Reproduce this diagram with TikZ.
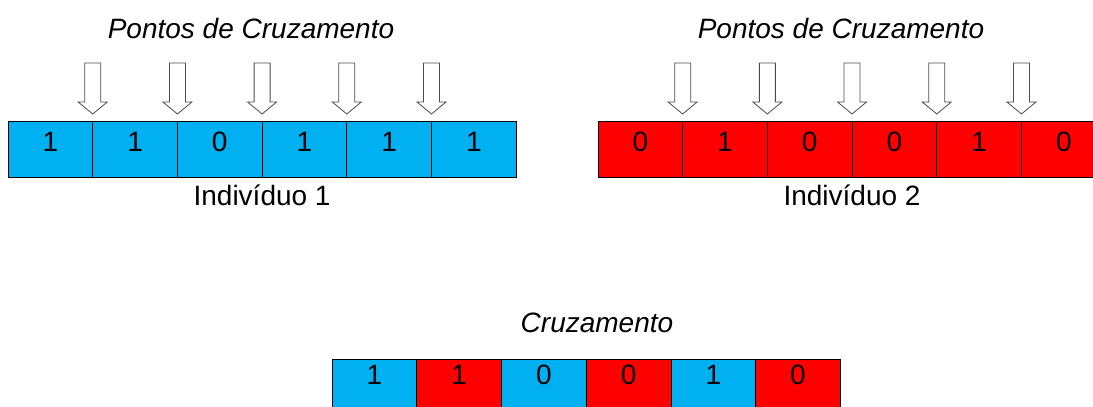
\documentclass[tikz,border=0pt]{standalone}
\usepackage{fontspec}
\setmainfont{Liberation Sans}
\usetikzlibrary{positioning}
\definecolor{geneblue}{RGB}{0,176,240}
\definecolor{genered}{RGB}{255,0,0}
\tikzset{
    cut/.pic = {
    \draw[fill=white, draw=black!70, line width=0.8pt]
      (0,0) -- (-14.5,-12) -- (-8,-12) -- (-8,-51) -- (8,-51) -- (8,-12) -- (14.5,-12) -- cycle;
    },
    cell/.style={draw, line width=0.8pt, minimum width=84.7pt, minimum height=56pt,
      inner sep=0pt, outer sep=0pt, text depth=14pt, font=\fontsize{28}{34}\selectfont},
    one/.style={cell, fill=geneblue},
    two/.style={cell, fill=genered},
    title/.style={inner sep=0pt, font=\itshape\fontsize{28}{34}\selectfont},
    caption/.style={inner sep=0pt, anchor=base, font=\fontsize{28}{34}\selectfont},
}

\begin{document}
\begin{tikzpicture}[x=1pt, y=-1pt]
    \clip (0,0) rectangle (1093,407);

    % Individuo 1
    \node[title] (t1) at (251,28) {Pontos de Cruzamento};
    \node[one] (a1) at (50.35,149) {1};
    \node[one, right=0pt of a1] (a2) {1};
    \node[one, right=0pt of a2] (a3) {0};
    \node[one, right=0pt of a3] (a4) {1};
    \node[one, right=0pt of a4] (a5) {1};
    \node[one, right=0pt of a5] (a6) {1};
    \node[caption] (n1) at ([yshift=-28pt]a3.south east) {Indivíduo 1};

    \pic at ([yshift=7pt]a1.north east) {cut};
    \pic at ([yshift=7pt]a2.north east) {cut};
    \pic at ([yshift=7pt]a3.north east) {cut};
    \pic at ([yshift=7pt]a4.north east) {cut};
    \pic at ([yshift=7pt]a5.north east) {cut};

    % Individuo 2
    \node[title] (t2) at (841,28) {Pontos de Cruzamento};
    \node[two] (b1) at (640.3,149) {0};
    \node[two, right=0pt of b1] (b2) {1};
    \node[two, right=0pt of b2] (b3) {0};
    \node[two, right=0pt of b3] (b4) {0};
    \node[two, right=0pt of b4] (b5) {1};
    \node[two, right=0pt of b5] (b6) {0};
    \node[caption] (n2) at ([yshift=-28pt]b3.south east) {Indivíduo 2};

    \pic at ([yshift=7pt]b1.north east) {cut};
    \pic at ([yshift=7pt]b2.north east) {cut};
    \pic at ([yshift=7pt]b3.north east) {cut};
    \pic at ([yshift=7pt]b4.north east) {cut};
    \pic at ([yshift=7pt]b5.north east) {cut};

    % filho
    \node[title, anchor=base] (t3) at (597,332) {Cruzamento};
    \node[one, text depth=24pt] (c1) at (374.5,387) {1};
    \node[two, text depth=24pt, right=0pt of c1] (c2) {1};
    \node[one, text depth=24pt, right=0pt of c2] (c3) {0};
    \node[two, text depth=24pt, right=0pt of c3] (c4) {0};
    \node[one, text depth=24pt, right=0pt of c4] (c5) {1};
    \node[two, text depth=24pt, right=0pt of c5] (c6) {0};
\end{tikzpicture}
\end{document}
